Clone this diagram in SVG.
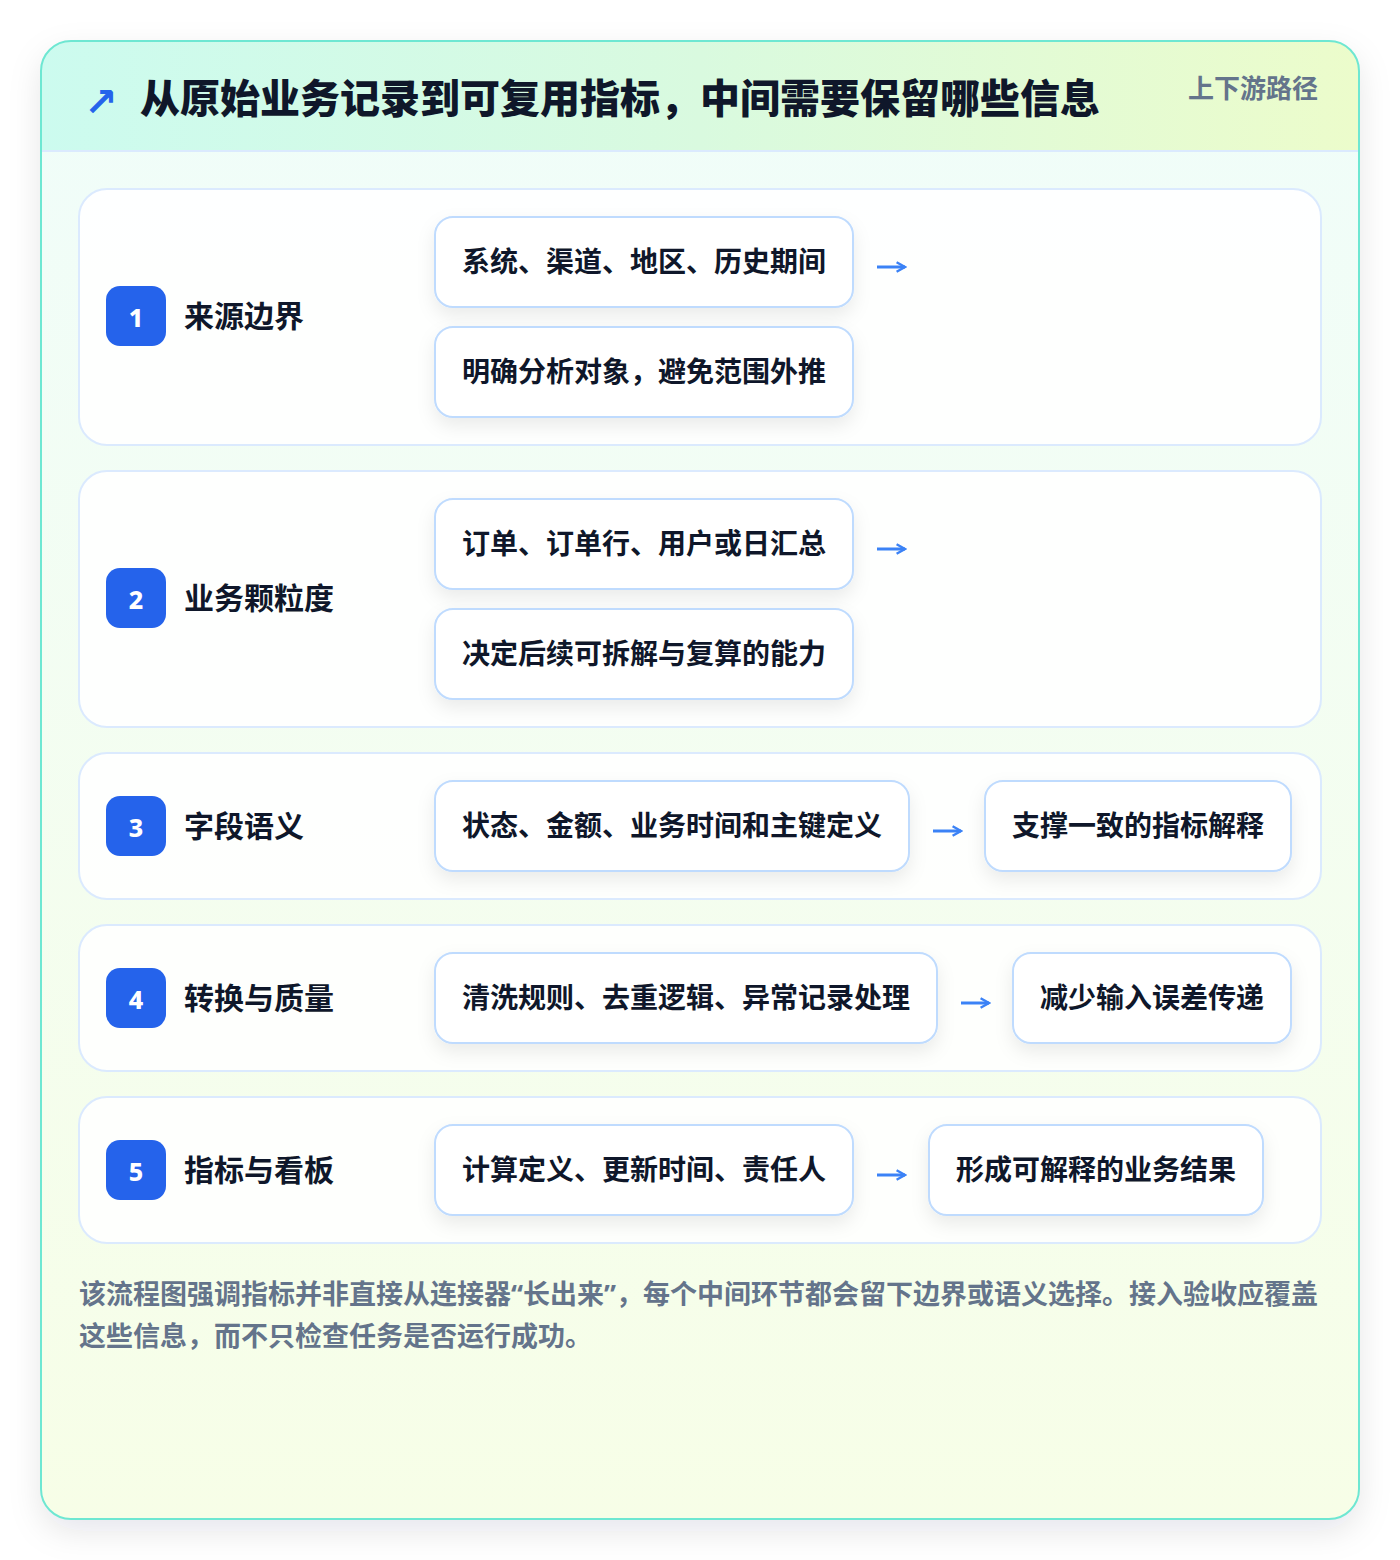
<svg xmlns="http://www.w3.org/2000/svg" width="1400" height="1560" viewBox="0 0 1400 1560">
<defs>
<linearGradient id="hdr" x1="0" y1="0" x2="1" y2="0">
<stop offset="0" stop-color="#ccfbef"/>
<stop offset="0.5" stop-color="#d9fadf"/>
<stop offset="1" stop-color="#ecfccb"/>
</linearGradient>
<linearGradient id="body" x1="0" y1="0" x2="0" y2="1">
<stop offset="0" stop-color="#f0fdfa"/>
<stop offset="1" stop-color="#f7fee7"/>
</linearGradient>
<filter id="cardShadow" x="-10%" y="-10%" width="120%" height="120%">
<feDropShadow dx="0" dy="12" stdDeviation="16" flood-color="#0f172a" flood-opacity="0.10"/>
</filter>
<filter id="boxShadow" x="-20%" y="-30%" width="140%" height="170%">
<feDropShadow dx="0" dy="8" stdDeviation="9" flood-color="#0f172a" flood-opacity="0.08"/>
</filter>
<marker id="ah" viewBox="0 0 10 10" refX="8" refY="5" markerWidth="4" markerHeight="4" orient="auto" markerUnits="strokeWidth">
<path d="M1,1 L8,5 L1,9" fill="none" stroke="#3b82f6" stroke-width="2"/>
</marker>
<clipPath id="cardClip"><rect x="41" y="41" width="1318" height="1478" rx="30"/></clipPath>
</defs>
<style>
.row{fill:#ffffff;fill-opacity:0.88;stroke:#dbeafe;stroke-width:2}
.box{fill:#ffffff;stroke:#bfdbfe;stroke-width:2;filter:url(#boxShadow)}
.badge{fill:#2563eb}
.num{font-family:"Noto Sans","DejaVu Sans",sans-serif;font-weight:800;font-size:25px;fill:#ffffff;text-anchor:middle}
.lbl{font-family:"Noto Sans CJK SC","Noto Sans",sans-serif;font-weight:700;font-size:30px;fill:#0f172a}
.bt{font-family:"Noto Sans CJK SC","Noto Sans",sans-serif;font-weight:700;font-size:28px;fill:#0f172a}
.conn{stroke:#3b82f6;stroke-width:3;fill:none;marker-end:url(#ah)}
.foot{font-family:"Noto Sans CJK SC","Noto Sans",sans-serif;font-weight:700;font-size:27px;fill:#64748b}
.q{font-family:"Noto Sans","Liberation Sans",sans-serif}
</style>
<rect x="0" y="0" width="1400" height="1560" fill="#ffffff"/>
<g id="card">
<rect x="41" y="41" width="1318" height="1478" rx="30" fill="url(#body)" filter="url(#cardShadow)"/>
<rect x="41" y="41" width="1318" height="110" fill="url(#hdr)" clip-path="url(#cardClip)"/>
<line x1="42" y1="151" x2="1358" y2="151" stroke="#dbeafe" stroke-width="2"/>
<rect x="41" y="41" width="1318" height="1478" rx="30" fill="none" stroke="#6ee7d2" stroke-width="2"/>
</g>
<g id="header">
<text x="84" y="116" font-family="'DejaVu Sans',sans-serif" font-size="40" font-weight="700" fill="#2563eb">↗</text>
<text x="140" y="113" font-family="'Noto Sans CJK SC','Noto Sans',sans-serif" font-weight="900" font-size="40" fill="#0f172a">从原始业务记录到可复用指标，中间需要保留哪些信息</text>
<text x="1318" y="98" text-anchor="end" font-family="'Noto Sans CJK SC','Noto Sans',sans-serif" font-weight="700" font-size="26" fill="#64748b">上下游路径</text>
</g>
<g id="step1">
<rect class="row" x="79" y="189" width="1242" height="256" rx="28"/>
<rect class="badge" x="106" y="286" width="60" height="60" rx="14"/>
<text class="num" x="136" y="327">1</text>
<text class="lbl" x="184" y="327">来源边界</text>
<g id="s1a"><rect class="box" x="435" y="217" width="418" height="90" rx="18"/><text class="bt" x="462" y="272">系统、渠道、地区、历史期间</text></g>
<g id="s1b"><rect class="box" x="435" y="327" width="418" height="90" rx="18"/><text class="bt" x="462" y="382">明确分析对象，避免范围外推</text></g>
</g>
<g id="step2">
<rect class="row" x="79" y="471" width="1242" height="256" rx="28"/>
<rect class="badge" x="106" y="568" width="60" height="60" rx="14"/>
<text class="num" x="136" y="609">2</text>
<text class="lbl" x="184" y="609">业务颗粒度</text>
<g id="s2a"><rect class="box" x="435" y="499" width="418" height="90" rx="18"/><text class="bt" x="462" y="554">订单、订单行、用户或日汇总</text></g>
<g id="s2b"><rect class="box" x="435" y="609" width="418" height="90" rx="18"/><text class="bt" x="462" y="664">决定后续可拆解与复算的能力</text></g>
</g>
<g id="step3">
<rect class="row" x="79" y="753" width="1242" height="146" rx="28"/>
<rect class="badge" x="106" y="796" width="60" height="60" rx="14"/>
<text class="num" x="136" y="837">3</text>
<text class="lbl" x="184" y="837">字段语义</text>
<g id="s3a"><rect class="box" x="435" y="781" width="474" height="90" rx="18"/><text class="bt" x="462" y="836">状态、金额、业务时间和主键定义</text></g>
<g id="s3b"><rect class="box" x="985" y="781" width="306" height="90" rx="18"/><text class="bt" x="1012" y="836">支撑一致的指标解释</text></g>
</g>
<g id="step4">
<rect class="row" x="79" y="925" width="1242" height="146" rx="28"/>
<rect class="badge" x="106" y="968" width="60" height="60" rx="14"/>
<text class="num" x="136" y="1009">4</text>
<text class="lbl" x="184" y="1009">转换与质量</text>
<g id="s4a"><rect class="box" x="435" y="953" width="502" height="90" rx="18"/><text class="bt" x="462" y="1008">清洗规则、去重逻辑、异常记录处理</text></g>
<g id="s4b"><rect class="box" x="1013" y="953" width="278" height="90" rx="18"/><text class="bt" x="1040" y="1008">减少输入误差传递</text></g>
</g>
<g id="step5">
<rect class="row" x="79" y="1097" width="1242" height="146" rx="28"/>
<rect class="badge" x="106" y="1140" width="60" height="60" rx="14"/>
<text class="num" x="136" y="1181">5</text>
<text class="lbl" x="184" y="1181">指标与看板</text>
<g id="s5a"><rect class="box" x="435" y="1125" width="418" height="90" rx="18"/><text class="bt" x="462" y="1180">计算定义、更新时间、责任人</text></g>
<g id="s5b"><rect class="box" x="929" y="1125" width="334" height="90" rx="18"/><text class="bt" x="956" y="1180">形成可解释的业务结果</text></g>
</g>
<g id="connectors">
<line class="conn" x1="877" y1="267" x2="905" y2="267"/>
<line class="conn" x1="877" y1="549" x2="905" y2="549"/>
<line class="conn" x1="933" y1="831" x2="961" y2="831"/>
<line class="conn" x1="961" y1="1003" x2="989" y2="1003"/>
<line class="conn" x1="877" y1="1175" x2="905" y2="1175"/>
</g>
<g id="footer">
<text class="foot" x="79" y="1304">该流程图强调指标并非直接从连接器<tspan class="q">“</tspan>长出来<tspan class="q">”</tspan>，每个中间环节都会留下边界或语义选择。接入验收应覆盖</text>
<text class="foot" x="79" y="1346">这些信息，而不只检查任务是否运行成功。</text>
</g>
</svg>
